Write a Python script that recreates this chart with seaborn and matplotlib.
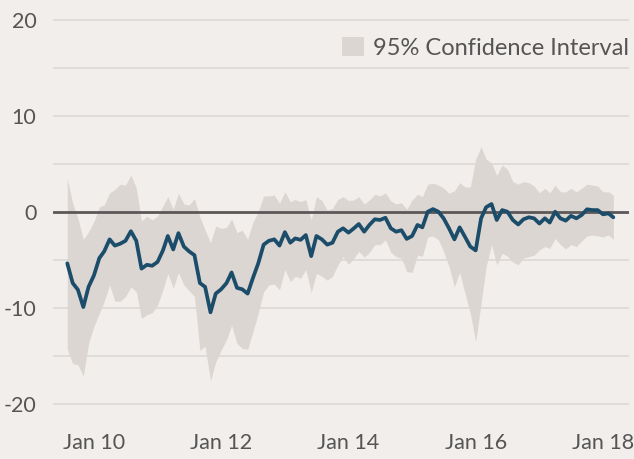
import pandas as pd
import numpy as np
import seaborn as sns
import matplotlib.pyplot as plt

# monthly estimates, Aug 2009 .. Mar 2018
start_month = "2009-08-01"

estimate = [
    -5.35, -7.4, -8.1, -9.9, -7.8,
    -6.6, -4.8, -4.1, -2.85, -3.5, -3.3, -3.0, -2.0, -3.0, -5.9, -5.5, -5.6,
    -5.2, -4.0, -2.5, -3.9, -2.2, -3.6, -4.1, -4.5, -7.4, -7.8, -10.45, -8.5,
    -8.05, -7.4, -6.3, -7.9, -8.05, -8.5, -6.9, -5.35, -3.4, -3.0, -2.85, -3.5,
    -2.1, -3.2, -2.75, -2.9, -2.4, -4.6, -2.5, -2.85, -3.4, -3.2, -2.05, -1.7,
    -2.15, -1.7, -1.25, -2.05, -1.35, -0.76, -0.83, -0.6, -1.7, -2.05, -1.9, -2.8,
    -2.5, -1.35, -1.6, 0.03, 0.3, 0.03, -0.66, -1.7, -2.85, -1.6, -2.6, -3.6,
    -4.0, -0.66, 0.5, 0.83, -0.83, 0.2, 0.03, -0.83, -1.3, -0.76, -0.55, -0.66,
    -1.2, -0.66, -1.1, 0.03, -0.66, -0.9, -0.4, -0.66, -0.3, 0.28, 0.2, 0.2,
    -0.24, -0.14, -0.55,
]

ci_upper = [
    3.5, 0.9, -0.66, -2.85, -2.05,
    -1.0, 0.55, 0.73, 2.0, 2.35, 2.9, 2.8, 3.85, 2.5, -0.94, -0.42, -0.83,
    -0.42, 0.63, 1.6, 0.28, 1.95, 0.83, 0.73, 1.4, -0.5, -1.9, -3.2, -1.46,
    -1.7, -1.6, -0.73, -2.15, -1.9, -2.85, -1.1, 0.03, 1.67, 1.67, 1.77, 0.9,
    2.1, 1.07, 1.3, 1.07, 1.3, -0.83, 1.6, 1.2, 0.2, 0.38, 1.3, 1.6,
    1.2, 1.25, 1.6, 0.83, 1.25, 1.84, 1.67, 2.0, 1.15, 0.83, 0.97, 0.28,
    1.25, 1.84, 1.6, 2.9, 3.0, 2.8, 2.5, 1.95, 2.2, 3.05, 2.6, 2.6,
    5.5, 6.8, 5.5, 5.1, 3.8, 4.9, 4.45, 3.16, 2.9, 3.16, 3.05, 2.7,
    2.0, 2.47, 2.0, 2.8, 2.1, 2.1, 2.47, 2.1, 2.47, 2.9, 2.8, 2.7,
    2.1, 2.1, 1.77,
]

ci_lower = [
    -14.3, -15.8, -15.9, -17.1, -13.7,
    -11.9, -10.55, -9.3, -7.6, -9.3, -9.3, -8.8, -7.8, -8.3, -11.1, -10.7, -10.5,
    -9.7, -8.1, -6.4, -7.95, -6.3, -7.6, -8.2, -8.8, -14.4, -14.0, -17.6, -15.6,
    -14.4, -13.3, -11.8, -13.7, -14.2, -14.3, -12.5, -10.55, -8.3, -7.6, -7.5, -8.1,
    -6.0, -7.25, -6.7, -6.9, -6.0, -8.4, -6.4, -6.7, -7.1, -6.7, -5.5, -4.65,
    -5.45, -4.8, -4.1, -4.7, -4.2, -3.4, -3.4, -2.9, -4.2, -4.65, -4.8, -6.2,
    -6.3, -4.5, -4.6, -2.6, -2.5, -2.9, -4.1, -5.7, -7.8, -6.3, -8.5, -10.55,
    -13.5, -9.5, -5.7, -3.4, -5.5, -4.3, -4.6, -5.2, -5.5, -4.8, -4.65, -4.5,
    -3.95, -3.6, -3.8, -2.75, -3.4, -3.85, -3.4, -3.6, -3.0, -2.5, -2.4, -2.5,
    -2.6, -2.4, -2.85,
]

tick_years = ["2010", "2012", "2014", "2016", "2018"]
tick_labels = ["Jan 10", "Jan 12", "Jan 14", "Jan 16", "Jan 18"]

BG = "#F1EEEB"
BAND = "#DCD6D2"
LINE = "#1B4D6B"
TEXT = "#555555"


def main():
    df = pd.DataFrame({
        "date": pd.date_range(start_month, periods=len(estimate), freq="MS"),
        "estimate": estimate,
        "lower": ci_lower,
        "upper": ci_upper,
    })

    sns.set_style("white", {"axes.facecolor": BG, "figure.facecolor": BG})
    plt.rcParams["font.family"] = ["Lato", "DejaVu Sans"]
    plt.rcParams["axes.unicode_minus"] = False

    fig = plt.figure(figsize=(6.34, 4.59), dpi=100)
    ax = fig.add_axes([53 / 634, 1 - 413.6 / 459, 576 / 634, 403.2 / 459])

    for y in np.arange(-20, 21, 5):
        if y != 0:
            ax.axhline(y, color="#DBD8D5", lw=1.2, zorder=0)

    ax.fill_between(df["date"], df["lower"], df["upper"], color=BAND, lw=0,
                    zorder=1, label="95% Confidence Interval")
    ax.axhline(0, color="#5B5857", lw=2.0, zorder=2)
    sns.lineplot(data=df, x="date", y="estimate", ax=ax, color=LINE, lw=2.7,
                 zorder=3, legend=False)

    ax.set_ylim(-21, 21)
    ax.set_xlim(pd.Timestamp("2009-05-11"), pd.Timestamp("2018-05-30"))
    ax.set_yticks([-20, -10, 0, 10, 20])
    ax.set_xticks([pd.Timestamp(f"{y}-01-01") for y in tick_years])
    ax.set_xticklabels(tick_labels)
    ax.set_xlabel("")
    ax.set_ylabel("")
    ax.tick_params(axis="both", length=0, labelsize=15.5, colors=TEXT)
    ax.tick_params(axis="y", pad=12)
    ax.tick_params(axis="x", pad=14)
    for s in ax.spines.values():
        s.set_visible(False)

    ax.legend(loc="upper right", bbox_to_anchor=(1.0, 0.935), frameon=False,
              fontsize=17, labelcolor=TEXT, handlelength=0.9, handleheight=0.9,
              handletextpad=0.4, borderaxespad=0, borderpad=0)

    fig.savefig("out.png", dpi=100, facecolor=BG)
    plt.close()


if __name__ == "__main__":
    main()
